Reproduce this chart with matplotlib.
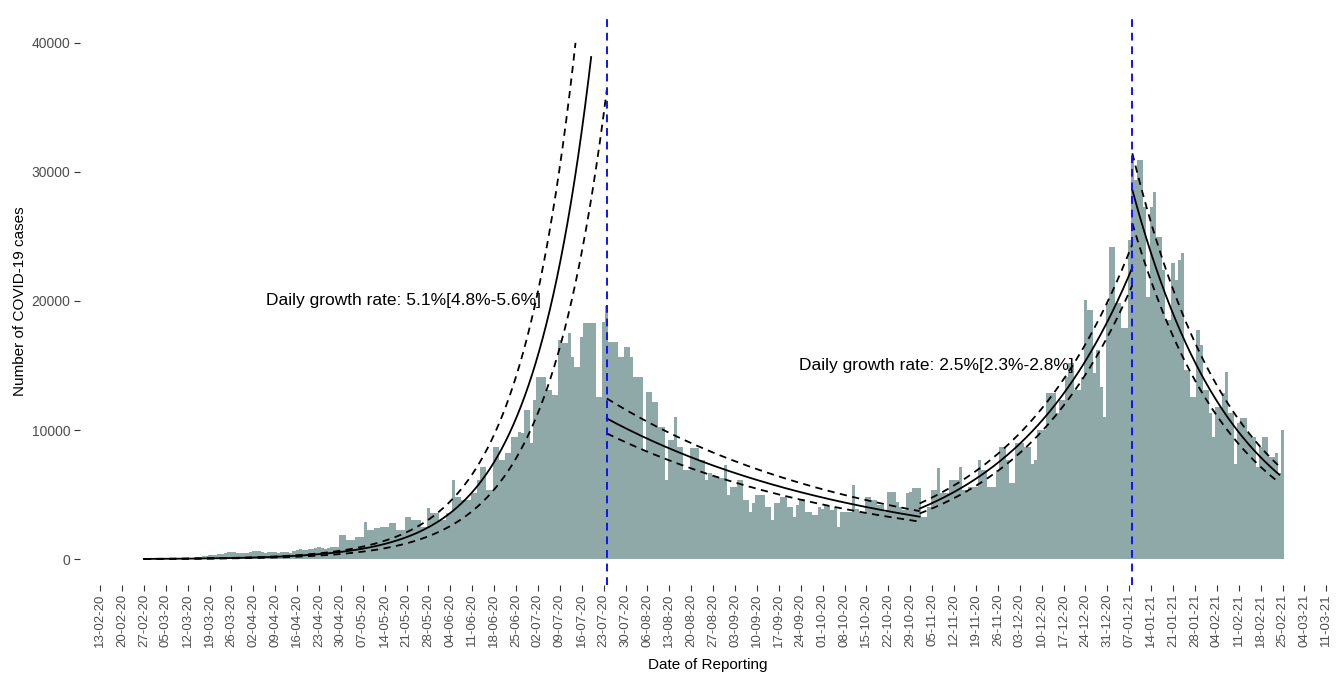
import matplotlib

matplotlib.use("Agg")

import matplotlib.dates as mdates
import matplotlib.pyplot as plt
import numpy as np
import pandas as pd

plt.rcParams["font.family"] = ["Liberation Sans", "DejaVu Sans"]

FIRST_DAY = "2020-02-27"

# daily reported cases, one row per week starting 27-02-20
daily_cases = [
    1, 1, 2, 3, 5, 8, 10,
    15, 20, 25, 35, 45, 60, 70,
    90, 110, 130, 160, 190, 220, 260,
    290, 330, 360, 400, 430, 470, 520,
    560, 590, 480, 450, 470, 500, 540,
    620, 650, 600, 520, 500, 540, 560,
    520, 480, 540, 560, 520, 500, 620,
    720, 760, 700, 740, 780, 820, 860,
    950, 880, 820, 850, 950, 980, 950,
    1860, 1860, 1470, 1470, 1470, 1730, 1730,
    1730, 2890, 2250, 2250, 2400, 2400, 2500,
    2500, 2500, 2800, 2800, 2250, 2250, 2250,
    3280, 3280, 3020, 3020, 3020, 2500, 2500,
    3940, 3540, 3540, 3540, 3000, 3000, 3540,
    3540, 6120, 4830, 4830, 4570, 4570, 4570,
    5100, 5100, 6120, 7150, 7150, 5350, 5350,
    8700, 8700, 7670, 7670, 8200, 8200, 9480,
    9480, 9870, 9740, 11550, 11550, 8980, 12320,
    14130, 14130, 14130, 13100, 13100, 12700, 12700,
    16970, 16740, 16740, 17500, 15680, 14900, 14900,
    17230, 18270, 18270, 18270, 18270, 12580, 12580,
    18390, 19600, 16840, 16840, 16840, 15680, 15680,
    16450, 16450, 15680, 14130, 14130, 14130, 8450,
    12970, 12970, 12190, 12190, 10250, 10250, 6120,
    9220, 9220, 11030, 8700, 8700, 6900, 6900,
    8600, 8600, 8600, 7670, 7670, 6120, 6640,
    6480, 6480, 6270, 6270, 7280, 4960, 5600,
    5600, 6120, 6120, 4570, 4570, 3670, 4340,
    4960, 4960, 4960, 4050, 4050, 3020, 4340,
    4340, 4830, 4830, 4050, 4050, 3280, 4180,
    4700, 4700, 3670, 3670, 3410, 3410, 4050,
    3900, 4200, 4100, 3800, 4050, 2500, 3670,
    3670, 3670, 3670, 5730, 3900, 3670, 3670,
    4830, 4830, 4570, 4570, 4180, 4180, 3670,
    5220, 5220, 5220, 4440, 4050, 3800, 5090,
    5220, 5480, 5480, 5480, 3280, 3280, 4050,
    5350, 5350, 7030, 5090, 5090, 5090, 6120,
    6120, 6120, 7150, 5350, 5350, 5600, 5600,
    5600, 7670, 6900, 6900, 5600, 5600, 5600,
    6900, 8700, 8700, 7670, 5870, 5870, 8970,
    8970, 8970, 8700, 8700, 7410, 7670, 10000,
    10000, 10000, 12840, 12840, 12840, 11290, 12320,
    12320, 14130, 15190, 15190, 13100, 13100, 14130,
    20070, 19300, 19300, 14400, 16200, 13350, 11030,
    19820, 24200, 24200, 19820, 19820, 17880, 17880,
    24720, 31050, 29370, 30920, 30920, 27300, 20330,
    27300, 28470, 24980, 24980, 22400, 18520, 18520,
    22920, 21620, 23170, 23690, 14650, 14650, 12580,
    12580, 17750, 16590, 13100, 13100, 11290, 9480,
    11800, 11800, 12840, 14520, 11290, 11290, 7410,
    10520, 10900, 10900, 9740, 9480, 9480, 7150,
    8700, 9480, 9480, 7930, 7930, 8200, 6640,
    10000,
]

# fitted exponential lines: start, end, anchor date, value at anchor, daily growth rate
fit_start = ["2020-02-27", "2020-02-27", "2020-02-27",
             "2020-07-24", "2020-07-24", "2020-07-24",
             "2020-11-01", "2020-11-01", "2020-11-01",
             "2021-01-08", "2021-01-08", "2021-01-08"]
fit_end = ["2020-07-19", "2020-07-14", "2020-07-24",
           "2020-11-01", "2020-11-01", "2020-11-01",
           "2021-01-08", "2021-01-08", "2021-01-08",
           "2021-02-24", "2021-02-24", "2021-02-24"]
fit_anchor = ["2020-07-19", "2020-07-14", "2020-07-24",
              "2020-07-24", "2020-07-24", "2020-07-24",
              "2021-01-08", "2021-01-08", "2021-01-08",
              "2021-01-08", "2021-01-08", "2021-01-08"]
fit_value = [38900, 40000, 36350,
             10900, 12450, 9740,
             22600, 24400, 21230,
             28600, 31440, 26020]
fit_rate = [0.0544, 0.0562, 0.0544,
            -0.0119, -0.0120, -0.0120,
            0.0261, 0.0258, 0.0267,
            -0.0309, -0.0309, -0.0310]
fit_kind = ["fit", "upper", "lower"] * 4

change_points = ["2020-07-24", "2021-01-08"]

growth_labels = ["Daily growth rate: 5.1%[4.8%-5.6%]", "Daily growth rate: 2.5%[2.3%-2.8%]"]
growth_label_dates = ["2020-05-20", "2020-11-06 12:00"]
growth_label_values = [20000, 15000]

tick_dates = pd.date_range("2020-02-13", "2021-03-11", freq="7D")

W, H = 1336, 674
fig = plt.figure(figsize=(W / 100, H / 100), dpi=100)
ax = fig.add_axes([80 / W, 1 - 585 / H, 1 - 80 / W, (585 - 17) / H])

dates = pd.date_range(FIRST_DAY, periods=len(daily_cases), freq="D")
ax.bar(dates, daily_cases, width=1.0, color="#8FA9A8", linewidth=0, zorder=1)

for start, end, anchor, value, rate, kind in zip(fit_start, fit_end, fit_anchor, fit_value, fit_rate, fit_kind):
    t = pd.date_range(start, end, freq="3h")
    days = (t - pd.Timestamp(anchor)) / pd.Timedelta(days=1)
    y = value * (1 + rate) ** np.asarray(days)
    if kind == "fit":
        ax.plot(t, y, color="black", linewidth=1.3, zorder=3)
    else:
        ax.plot(t, y, color="black", linewidth=1.3, linestyle=(0, (4, 3)), zorder=3)

for cp in change_points:
    ax.axvline(pd.Timestamp(cp), color="#1010FF", linewidth=1.4, linestyle=(0, (4, 3)), zorder=4)

for text, d, v in zip(growth_labels, growth_label_dates, growth_label_values):
    ax.text(pd.Timestamp(d), v, text, ha="center", va="center", fontsize=12.5, color="black", zorder=5)

day0 = pd.Timestamp(FIRST_DAY)
ax.set_xlim(day0 - pd.Timedelta(days=20.4), day0 + pd.Timedelta(days=381.1))
ax.set_ylim(-2000, 42000)

ax.set_xticks(tick_dates)
ax.xaxis.set_major_formatter(mdates.DateFormatter("%d-%m-%y"))
ax.set_yticks([0, 10000, 20000, 30000, 40000])
for label in ax.get_xticklabels():
    label.set_rotation(90)
ax.tick_params(axis="x", labelsize=9.5, labelcolor="#4D4D4D", color="#333333", length=4, pad=2)
ax.tick_params(axis="y", labelsize=10, labelcolor="#4D4D4D", color="#333333", length=4, pad=3)
for spine in ax.spines.values():
    spine.set_visible(False)

fig.text(20 / W, 1 - 301 / H, "Number of COVID-19 cases", rotation=90, ha="center", va="center", fontsize=11)
fig.text(708 / W, 1 - 665 / H, "Date of Reporting", ha="center", va="center", fontsize=11)

fig.savefig("out.png", dpi=100)
